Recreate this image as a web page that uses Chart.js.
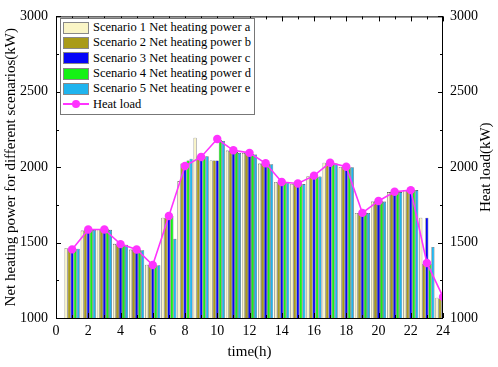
<!DOCTYPE html>
<html>
<head>
<meta charset="utf-8">
<script src="https://cdn.jsdelivr.net/npm/chart.js@4.4.1/dist/chart.umd.min.js"></script>
<style>
  body { margin: 0; background: #fff; }
  #wrap { position: relative; width: 498px; height: 367px; }
  #legend {
    position: absolute; left: 60px; top: 18px; width: 193px;
    border: 1px solid #777; background: #fff; padding: 1px 0 2px 0;
    font-family: "Liberation Serif", serif; font-size: 12.5px; color: #000;
  }
  #legend .row { height: 15.3px; display: flex; align-items: center; white-space: nowrap; }
  #legend .sw { width: 26px; height: 12px; margin: 0 4px 0 2px; border: 1px solid #888; box-sizing: border-box; flex: none; }
  #legend .ln { width: 26px; height: 12px; margin: 0 4px 0 2px; position: relative; flex: none; }
  #legend .ln:before { content: ""; position: absolute; left: 0; right: 0; top: 5px; height: 2px; background: #ff33ff; }
  #legend .ln:after { content: ""; position: absolute; left: 9px; top: 2px; width: 8px; height: 8px; border-radius: 50%; background: #ff33ff; }
</style>
</head>
<body>
<div id="wrap">
  <canvas id="chart" width="498" height="367"></canvas>
  <div id="legend"></div>
</div>
<script>
var hours = [1,2,3,4,5,6,7,8,9,10,11,12,13,14,15,16,17,18,19,20,21,22,23,24];
var scenarioA = [1465,1580,1588,1492,1454,1353,1665,1908,2196,2045,2110,2095,2024,1902,1890,1940,2030,2002,1697,1772,1835,1848,1665,1135];
var scenarioB = [1460,1585,1588,1488,1454,1353,1665,2024,2073,2045,2108,2093,2024,1900,1890,1940,2030,2002,1697,1774,1837,1848,1360,1130];
var scenarioC = [1455,1585,1588,1488,1452,1350,1665,2024,2073,2045,2105,2090,2022,1900,1888,1940,2028,2000,1697,1774,1837,1848,1665,1130];
var scenarioD = [1458,1585,1588,1485,1452,1350,1677,2045,2073,2181,2100,2090,2022,1900,1888,1938,2025,2000,1697,1774,1835,1848,1360,1130];
var scenarioE = [1460,1585,1585,1485,1450,1350,1525,2056,2073,2174,2095,2085,2020,1898,1888,1938,2025,2000,1697,1772,1835,1848,1471,1130];
var heatLoad  = [1455,1587,1587,1490,1454,1351,1677,2008,2068,2187,2112,2095,2026,1902,1892,1944,2030,2003,1697,1776,1837,1848,1365,1140];

var seriesNames = ["Scenario 1 Net heating power a","Scenario 2 Net heating power b","Scenario 3 Net heating power c","Scenario 4 Net heating power d","Scenario 5 Net heating power e"];
var seriesColors = ["#faf5c6","#a99b18","#0505f8","#14f214","#1fb4ee"];
var seriesValues = [scenarioA, scenarioB, scenarioC, scenarioD, scenarioE];

var serif = "'Liberation Serif', 'Times New Roman', serif";

function points(vals){
  return hours.map(function(h, i){ return {x: h, y: vals[i]}; });
}
function plain(v){ return String(v); }

var datasets = [];
for (var i = 0; i < seriesValues.length; i++) {
  datasets.push({
    type: 'bar',
    label: seriesNames[i],
    data: points(seriesValues[i]),
    backgroundColor: seriesColors[i],
    borderColor: '#3a3a3a',
    borderWidth: 0.6,
    categoryPercentage: 0.94,
    barPercentage: 1.0,
    yAxisID: 'y',
    order: 2
  });
}
datasets.push({
  type: 'line',
  label: 'Heat load',
  data: points(heatLoad),
  borderColor: '#ff33ff',
  backgroundColor: '#ff33ff',
  borderWidth: 1.6,
  pointRadius: 4.2,
  pointBorderWidth: 0,
  pointBackgroundColor: '#ff33ff',
  tension: 0,
  yAxisID: 'y',
  order: 1
});

// frame around the plot with inward ticks, plus right title
var framePlugin = {
  id: 'frame',
  afterDraw: function(chart){
    var ctx = chart.ctx, a = chart.chartArea;
    var xs = chart.scales.x, ys = chart.scales.y;
    ctx.save();
    ctx.strokeStyle = '#000';
    ctx.lineWidth = 1;
    ctx.strokeRect(a.left + 0.5, a.top + 0.5, a.right - a.left - 1, a.bottom - a.top);
    ctx.beginPath();
    for (var h = 0; h <= 24; h++) {
      var px = Math.round(xs.getPixelForValue(h)) + 0.5;
      var len = (h % 2 === 0) ? 5 : 3;
      ctx.moveTo(px, a.bottom); ctx.lineTo(px, a.bottom - len);
      ctx.moveTo(px, a.top); ctx.lineTo(px, a.top + len);
    }
    for (var v = 1000; v <= 3000; v += 250) {
      var py = Math.round(ys.getPixelForValue(v)) + 0.5;
      var l2 = (v % 500 === 0) ? 5 : 3;
      ctx.moveTo(a.left, py); ctx.lineTo(a.left + l2, py);
      ctx.moveTo(a.right, py); ctx.lineTo(a.right - l2, py);
    }
    ctx.stroke();

    var t = chart.options.scales.y2.title;
    ctx.translate(486, (a.top + a.bottom) / 2);
    ctx.rotate(-Math.PI / 2);
    ctx.fillStyle = '#000';
    ctx.font = "15px " + serif;
    ctx.textAlign = 'center';
    ctx.textBaseline = 'middle';
    ctx.fillText(t.text, 0, 0);
    ctx.restore();
  }
};

var chart = new Chart(document.getElementById('chart').getContext('2d'), {
  type: 'bar',
  data: { datasets: datasets },
  options: {
    responsive: false,
    animation: false,
    layout: { padding: { top: 8, left: 0, right: 0, bottom: 0 } },
    plugins: { legend: { display: false }, tooltip: { enabled: false } },
    scales: {
      x: {
        type: 'linear', position: 'bottom', min: 0, max: 24, offset: false,
        grid: { display: false, drawTicks: false, offset: false },
        border: { display: false },
        ticks: { stepSize: 2, padding: 5, color: '#000', font: { family: serif, size: 14 }, maxRotation: 0, callback: plain },
        title: { display: true, text: 'time(h)', color: '#000', font: { family: serif, size: 15 }, padding: { top: 0, bottom: 6 } },
        afterFit: function(s){ s.height = 49; }
      },
      y: {
        position: 'left', min: 1000, max: 3000,
        grid: { display: false, drawTicks: false },
        border: { display: false },
        ticks: { stepSize: 500, padding: 8, color: '#000', font: { family: serif, size: 14 }, callback: plain },
        title: { display: true, text: 'Net heating power for different scenarios(kW)', color: '#000', font: { family: serif, size: 15 }, padding: { top: 2, bottom: 0 } },
        afterFit: function(s){ s.width = 56; }
      },
      y2: {
        position: 'right', min: 1000, max: 3000,
        grid: { display: false, drawTicks: false },
        border: { display: false },
        ticks: { stepSize: 500, padding: 7, color: '#000', font: { family: serif, size: 14 }, callback: plain },
        title: { display: false, text: 'Heat load(kW)' },
        afterFit: function(s){ s.width = 55; }
      }
    }
  },
  plugins: [framePlugin]
});

// html legend built from the chart datasets
var legend = document.getElementById('legend');
chart.data.datasets.forEach(function(ds){
  var row = document.createElement('div');
  row.className = 'row';
  var mark = document.createElement('span');
  if (ds.type === 'line') {
    mark.className = 'ln';
  } else {
    mark.className = 'sw';
    mark.style.background = ds.backgroundColor;
  }
  var txt = document.createElement('span');
  txt.textContent = ds.label;
  row.appendChild(mark);
  row.appendChild(txt);
  legend.appendChild(row);
});
</script>
</body>
</html>
